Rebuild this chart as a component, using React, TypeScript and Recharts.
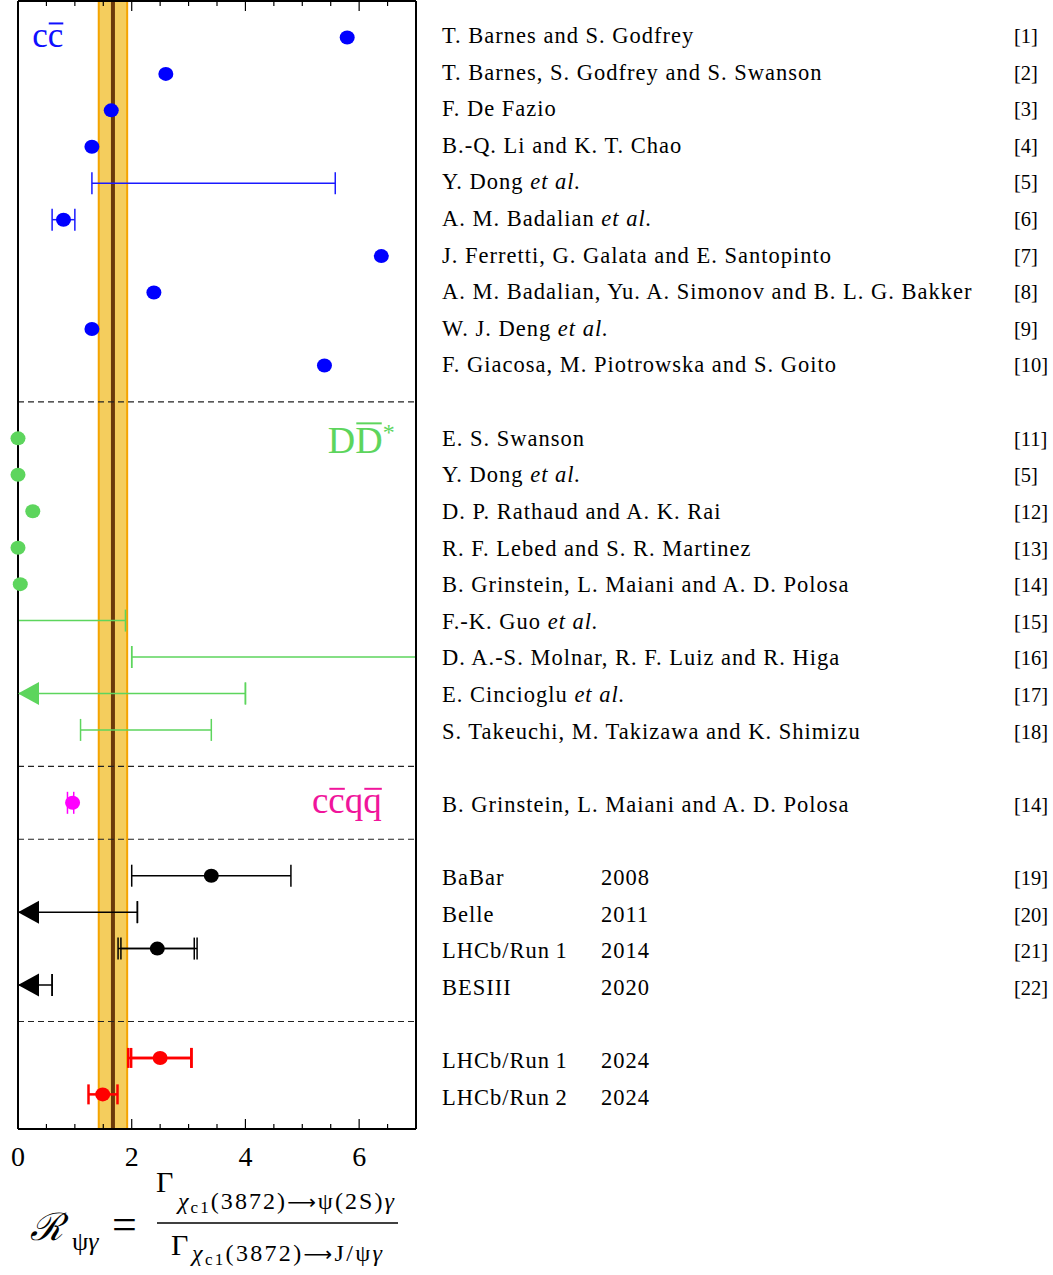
import React from "react";
import {
  ScatterChart, Scatter, XAxis, YAxis, ErrorBar, ReferenceLine, ReferenceArea, ReferenceDot, Label,
} from "recharts";

const SERIF = '"Liberation Serif", "Times New Roman", serif';

// one entry per row slot, gaps are empty
const ROW_NAMES = [
  "T. Barnes and S. Godfrey",
  "T. Barnes, S. Godfrey and S. Swanson",
  "F. De Fazio",
  "B.-Q. Li and K. T. Chao",
  "Y. Dong et al.",
  "A. M. Badalian et al.",
  "J. Ferretti, G. Galata and E. Santopinto",
  "A. M. Badalian, Yu. A. Simonov and B. L. G. Bakker",
  "W. J. Deng et al.",
  "F. Giacosa, M. Piotrowska and S. Goito",
  "",
  "E. S. Swanson",
  "Y. Dong et al.",
  "D. P. Rathaud and A. K. Rai",
  "R. F. Lebed and S. R. Martinez",
  "B. Grinstein, L. Maiani and A. D. Polosa",
  "F.-K. Guo et al.",
  "D. A.-S. Molnar, R. F. Luiz and R. Higa",
  "E. Cincioglu et al.",
  "S. Takeuchi, M. Takizawa and K. Shimizu",
  "",
  "B. Grinstein, L. Maiani and A. D. Polosa",
  "",
  "BaBar",
  "Belle",
  "LHCb/Run\u20091",
  "BESIII",
  "",
  "LHCb/Run\u20091",
  "LHCb/Run\u20092",
];
const ROW_YEARS = [
  "", "", "", "", "", "", "", "", "", "", "",
  "", "", "", "", "", "", "", "", "", "", "", "",
  "2008", "2011", "2014", "2020", "", "2024", "2024",
];
const ROW_REFS = [
  "[1]", "[2]", "[3]", "[4]", "[5]", "[6]", "[7]", "[8]", "[9]", "[10]", "",
  "[11]", "[5]", "[12]", "[13]", "[14]", "[15]", "[16]", "[17]", "[18]", "",
  "[14]", "",
  "[19]", "[20]", "[21]", "[22]", "", "", "",
];
const SLOTS = ROW_NAMES.map((_, i) => i + 1);

// cc-bar models: [slot, value]  and ranges [slot, central, low, high]
const CCBAR_DOTS: [number, number][] = [
  [0, 5.79], [1, 2.60], [2, 1.64], [3, 1.30], [5, 0.80], [6, 6.39], [7, 2.39], [8, 1.30], [9, 5.39],
];
const CCBAR_RANGES: [number, number, number, number][] = [
  [4, 3.44, 1.30, 5.58], [5, 0.80, 0.60, 1.00],
];

// D Dbar* molecule models
const DDSTAR_DOTS: [number, number][] = [[11, 0.0], [12, 0.0], [13, 0.26], [14, 0.0], [15, 0.04]];
const DDSTAR_RANGES: [number, number, number, number][] = [[16, 0.95, 0.0, 1.89], [19, 2.25, 1.10, 3.40]];
const DDSTAR_LOWER: [number, number][] = [[17, 2.0]]; // lower limit, open to the right
const DDSTAR_UPPER: [number, number][] = [[18, 4.0]];

// compact tetraquark
const CCQQ_RANGES: [number, number, number, number][] = [[21, 0.96, 0.87, 0.98]];

// experiments
const EXP_RANGES: [number, number, number, number][] = [[23, 3.40, 2.0, 4.80], [25, 2.45, 1.81, 3.10]];
const EXP_TOTAL: [number, number, number, number][] = [[25, 2.45, 1.76, 3.15]];
const EXP_UPPER: [number, number][] = [[24, 2.10], [26, 0.60]];

// LHCb 2024
const LHCB_RANGES: [number, number, number, number][] = [[28, 2.50, 1.94, 3.05], [29, 1.49, 1.24, 1.75]];
const LHCB_STAT: [number, number, number, number][] = [[28, 2.50, 1.99, 3.05]];

// average and band
const AVERAGE = 1.67;
const BAND = [1.42, 1.92];

const X_MAX = 7;
const X_TICKS = [0, 0.5, 1, 1.5, 2, 2.5, 3, 3.5, 4, 4.5, 5, 5.5, 6, 6.5, 7];
const SEPARATORS = [10, 20, 22, 27];
const Y_DOMAIN = [0, 30.95];

const toDot = ([s, v]: [number, number]) => ({ x: v, y: s + 1 });
const toRange = ([s, v, lo, hi]: [number, number, number, number]) => ({ x: v, y: s + 1, err: [v - lo, hi - v] });
// upper limit: point sits on the limit, line runs back to zero
const toUpper = ([s, ul]: [number, number]) => ({ x: ul, y: s + 1, line: [ul, 0], cap: [0, 0] });
const toArrowHead = ([s]: [number, number]) => ({ x: 0, y: s + 1 });
// lower limit: line runs to the right edge
const toLower = ([s, ll]: [number, number]) => ({ x: ll, y: s + 1, line: [0, X_MAX - ll], cap: [0, 0] });

const dotShape = (color: string) => (p: any) => (
  <ellipse cx={p.cx} cy={p.cy} rx={7.5} ry={7} fill={color} />
);
const arrowShape = (color: string) => (p: any) => (
  <polygon points={`${p.cx},${p.cy} ${p.cx + 21},${p.cy - 11.5} ${p.cx + 21},${p.cy + 11.5}`} fill={color} />
);
const noShape = () => <g />;

const BottomTick = ({ x, y, payload }: any) => {
  const major = payload.value % 2 === 0;
  return (
    <g>
      <line x1={x} x2={x} y1={y} y2={y - (major ? 10 : 5)} stroke="#000" strokeWidth={1.2} />
      {major && (
        <text x={x} y={y + 37} textAnchor="middle" fontFamily={SERIF} fontSize={28} fill="#000">
          {payload.value}
        </text>
      )}
    </g>
  );
};

const TopTick = ({ x, y, payload }: any) => {
  const major = payload.value % 2 === 0;
  return <line x1={x} x2={x} y1={y} y2={y + (major ? 10 : 5)} stroke="#000" strokeWidth={1.2} />;
};

const RowLabel = ({ x, y, payload }: any) => {
  const i = payload.value - 1;
  const name = ROW_NAMES[i] || "";
  const parts = name.split(" et al.");
  // text lines are spaced a touch wider than the marker rows
  const b = y + 5.5 + i * 0.17;
  return (
    <g fontFamily={SERIF} fill="#000">
      <text x={x + 26} y={b} fontSize={22.5} letterSpacing={1}>
        {parts[0]}
        {parts.length > 1 && <tspan fontStyle="italic"> et al.</tspan>}
      </text>
      <text x={x + 185} y={b} fontSize={22.5} letterSpacing={1}>{ROW_YEARS[i]}</text>
      <text x={x + 598} y={b} fontSize={20.5}>{ROW_REFS[i]}</text>
    </g>
  );
};

const CcLabel = ({ cx, cy }: any) => {
  const fs = 35, c = 0.444 * fs, b = cy + 10;
  return (
    <g fill="#1010ff" stroke="none">
      <text x={cx} y={b} fontFamily={SERIF} fontSize={fs}>cc</text>
      <line x1={cx + c + 1} x2={cx + 2 * c} y1={b - 24} y2={b - 24} stroke="#1010ff" strokeWidth={2} />
    </g>
  );
};

const DdLabel = ({ cx, cy }: any) => {
  const fs = 38, d = 0.722 * fs, b = cy + 15;
  return (
    <g fill="#5dd55d">
      <text x={cx} y={b} fontFamily={SERIF} fontSize={fs}>
        DD<tspan fontSize={24} dy={-13}>*</tspan>
      </text>
      <line x1={cx + d + 1} x2={cx + 2 * d - 1} y1={b - 30} y2={b - 30} stroke="#5dd55d" strokeWidth={2} />
    </g>
  );
};

const QqLabel = ({ cx, cy }: any) => {
  const fs = 37, c = 0.444 * fs, q = 0.5 * fs, b = cy + 10;
  return (
    <g fill="#f0159b">
      <text x={cx} y={b} fontFamily={SERIF} fontSize={fs}>ccqq</text>
      <line x1={cx + c + 1} x2={cx + 2 * c} y1={b - 24} y2={b - 24} stroke="#f0159b" strokeWidth={2} />
      <line x1={cx + 2 * c + q + 1} x2={cx + 2 * c + 2 * q} y1={b - 24} y2={b - 24} stroke="#f0159b" strokeWidth={2} />
    </g>
  );
};

const ARROW_FONT = '"DejaVu Sans", sans-serif';

const Formula = ({ viewBox }: any) => {
  const y0 = viewBox.y;
  return (
    <g fontFamily={SERIF} fill="#000">
      <text x={30} y={y0 + 111} fontFamily='"DejaVu Serif", serif' fontStyle="italic" fontSize={38}>ℛ</text>
      <text x={72} y={y0 + 121} fontSize={26}>ψ<tspan fontStyle="italic">γ</tspan></text>
      <text x={112} y={y0 + 110} fontSize={44}>=</text>
      <line x1={157} x2={398} y1={y0 + 94} y2={y0 + 94} stroke="#000" strokeWidth={1.5} />
      <text x={156} y={y0 + 63} fontSize={30}>Γ</text>
      <text x={178} y={y0 + 80} fontSize={24} textLength={216} lengthAdjust="spacing">
        <tspan fontStyle="italic">χ</tspan>
        <tspan fontSize={17} dy={4}>c1</tspan>
        <tspan dy={-4}>(3872)</tspan>
        <tspan fontFamily={ARROW_FONT} fontSize={20}>⟶</tspan>
        <tspan>ψ(2S)</tspan>
        <tspan fontStyle="italic">γ</tspan>
      </text>
      <text x={171} y={y0 + 126} fontSize={30}>Γ</text>
      <text x={192} y={y0 + 132} fontSize={24} textLength={190} lengthAdjust="spacing">
        <tspan fontStyle="italic">χ</tspan>
        <tspan fontSize={17} dy={4}>c1</tspan>
        <tspan dy={-4}>(3872)</tspan>
        <tspan fontFamily={ARROW_FONT} fontSize={20}>⟶</tspan>
        <tspan>J/ψ</tspan>
        <tspan fontStyle="italic">γ</tspan>
      </text>
    </g>
  );
};

const errProps = { direction: "x" as const, isAnimationActive: false };

export default function App() {
  return (
    <div style={{ position: "absolute", left: 0, top: 0, background: "#fff" }}>
      <ScatterChart width={1053} height={1275} margin={{ top: 0, left: 17, right: 636, bottom: 145 }}>
        <XAxis
          type="number" dataKey="x" domain={[0, X_MAX]} ticks={X_TICKS} interval={0}
          height={1} tickSize={0} tickMargin={0} tickLine={false} tick={<BottomTick />}
          axisLine={{ stroke: "#000", strokeWidth: 2 }}
        >
          <Label content={<Formula />} />
        </XAxis>
        <XAxis
          xAxisId="top" orientation="top" type="number" dataKey="x" domain={[0, X_MAX]} ticks={X_TICKS} interval={0}
          allowDataOverflow height={1} tickSize={0} tickMargin={0} tickLine={false} tick={<TopTick />}
          axisLine={{ stroke: "#000", strokeWidth: 2 }}
        />
        <YAxis
          type="number" dataKey="y" domain={Y_DOMAIN} reversed width={1} tick={false} tickLine={false}
          axisLine={{ stroke: "#000", strokeWidth: 2 }}
        />
        <YAxis
          yAxisId="right" orientation="right" type="number" dataKey="y" domain={Y_DOMAIN} reversed width={1}
          allowDataOverflow ticks={SLOTS} interval={0} tickSize={0} tickMargin={0} tickLine={false} tick={<RowLabel />}
          axisLine={{ stroke: "#000", strokeWidth: 2 }}
        />

        <ReferenceArea x1={BAND[0]} x2={BAND[1]} fill="#f4cd5d" fillOpacity={1} stroke="#f5a400" strokeWidth={2} />
        <ReferenceLine x={AVERAGE} stroke="#6b3a0a" strokeWidth={4} />
        {SEPARATORS.map((s) => (
          <ReferenceLine key={s} y={s + 1} stroke="#222" strokeWidth={1.2} strokeDasharray="6 4" />
        ))}

        <ReferenceDot x={0.25} y={1} r={0} shape={(p: any) => <CcLabel {...p} />} />
        <ReferenceDot x={5.45} y={12} r={0} shape={(p: any) => <DdLabel {...p} />} />
        <ReferenceDot x={5.17} y={22} r={0} shape={(p: any) => <QqLabel {...p} />} />

        {/* cc-bar */}
        <Scatter data={CCBAR_RANGES.map(toRange)} shape={noShape} isAnimationActive={false}>
          <ErrorBar dataKey="err" width={11} stroke="#1a1aff" strokeWidth={1.5} {...errProps} />
        </Scatter>
        <Scatter data={CCBAR_DOTS.map(toDot)} shape={dotShape("#0000ff")} isAnimationActive={false} />

        {/* D Dbar* */}
        <Scatter data={DDSTAR_RANGES.map(toRange)} shape={noShape} isAnimationActive={false}>
          <ErrorBar dataKey="err" width={11} stroke="#5dd55d" strokeWidth={1.5} {...errProps} />
        </Scatter>
        <Scatter data={[...DDSTAR_LOWER.map(toLower), ...DDSTAR_UPPER.map(toUpper)]} shape={noShape} isAnimationActive={false}>
          <ErrorBar dataKey="line" width={0} stroke="#5dd55d" strokeWidth={1.5} {...errProps} />
          <ErrorBar dataKey="cap" width={11} stroke="#5dd55d" strokeWidth={1.5} {...errProps} />
        </Scatter>
        <Scatter data={DDSTAR_UPPER.map(toArrowHead)} shape={arrowShape("#5dd55d")} isAnimationActive={false} />
        <Scatter data={DDSTAR_DOTS.map(toDot)} shape={dotShape("#5dd55d")} isAnimationActive={false} />

        {/* cc qq */}
        <Scatter data={CCQQ_RANGES.map(toRange)} shape={dotShape("#ff00ff")} isAnimationActive={false}>
          <ErrorBar dataKey="err" width={11} stroke="#ff00ff" strokeWidth={1.5} {...errProps} />
        </Scatter>

        {/* experiments */}
        <Scatter data={EXP_TOTAL.map(toRange)} shape={noShape} isAnimationActive={false}>
          <ErrorBar dataKey="err" width={11} stroke="#000" strokeWidth={1.5} {...errProps} />
        </Scatter>
        <Scatter data={EXP_RANGES.map(toRange)} shape={dotShape("#000")} isAnimationActive={false}>
          <ErrorBar dataKey="err" width={11} stroke="#000" strokeWidth={1.5} {...errProps} />
        </Scatter>
        <Scatter data={EXP_UPPER.map(toUpper)} shape={noShape} isAnimationActive={false}>
          <ErrorBar dataKey="line" width={0} stroke="#000" strokeWidth={1.5} {...errProps} />
          <ErrorBar dataKey="cap" width={11} stroke="#000" strokeWidth={1.5} {...errProps} />
        </Scatter>
        <Scatter data={EXP_UPPER.map(toArrowHead)} shape={arrowShape("#000")} isAnimationActive={false} />

        {/* LHCb 2024 */}
        <Scatter data={LHCB_STAT.map(toRange)} shape={noShape} isAnimationActive={false}>
          <ErrorBar dataKey="err" width={10} stroke="#ff0000" strokeWidth={2.5} {...errProps} />
        </Scatter>
        <Scatter data={LHCB_RANGES.map(toRange)} shape={dotShape("#ff0000")} isAnimationActive={false}>
          <ErrorBar dataKey="err" width={10} stroke="#ff0000" strokeWidth={2.5} {...errProps} />
        </Scatter>
      </ScatterChart>
    </div>
  );
}
